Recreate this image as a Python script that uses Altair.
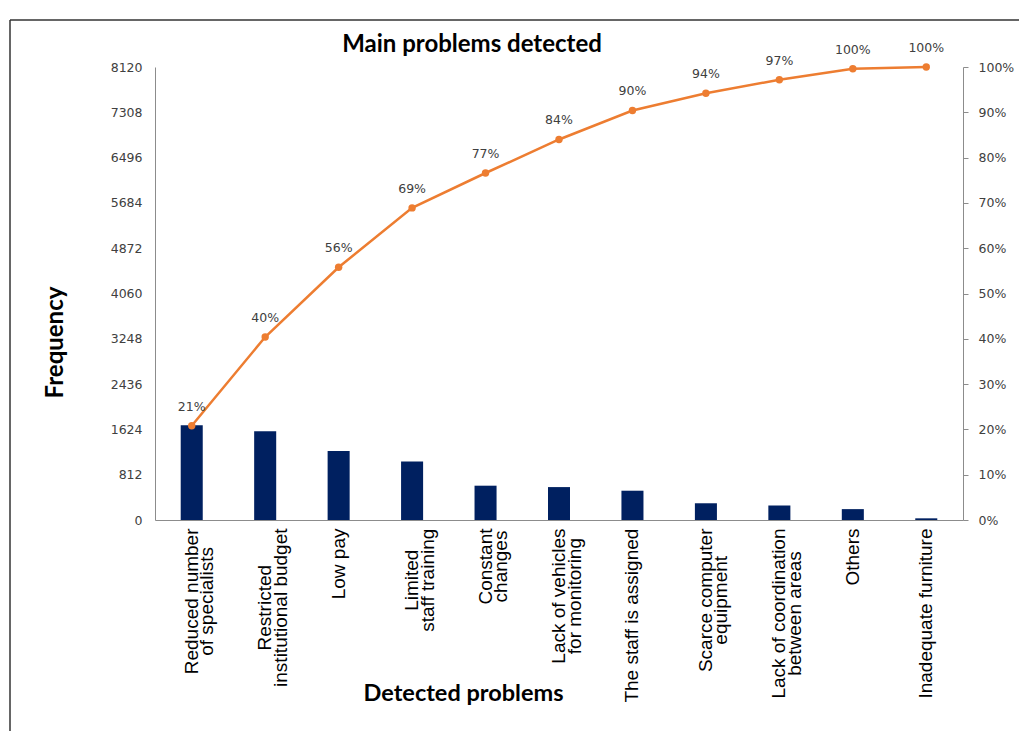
import altair as alt
import pandas as pd

# ---- data ----
categories = [
    "Reduced number|of specialists",
    "Restricted|institutional budget",
    "Low pay",
    "Limited|staff training",
    "Constant|changes",
    "Lack of vehicles|for monitoring",
    "The staff is assigned",
    "Scarce computer|equipment",
    "Lack of coordination|between areas",
    "Others",
    "Inadequate furniture",
]
frequencies = [1700, 1590, 1235, 1050, 615, 590, 525, 300, 260, 195, 30]
cumulative_share = [0.208, 0.404, 0.558, 0.689, 0.766, 0.840, 0.904, 0.942, 0.972, 0.996, 1.0]
freq_ticks = [0, 812, 1624, 2436, 3248, 4060, 4872, 5684, 6496, 7308, 8120]
pct_ticks = [0, 0.1, 0.2, 0.3, 0.4, 0.5, 0.6, 0.7, 0.8, 0.9, 1.0]

df = pd.DataFrame({"problem": categories, "freq": frequencies, "cum": cumulative_share})

# ---- label layout helper (Arial / Liberation Sans advance widths, per 1000 em) ----
W = {" ": 278, "a": 556, "b": 556, "c": 500, "d": 556, "e": 556, "f": 278, "g": 556,
     "h": 556, "i": 222, "j": 222, "k": 500, "l": 222, "m": 833, "n": 556, "o": 556,
     "p": 556, "q": 556, "r": 333, "s": 500, "t": 278, "u": 556, "v": 500, "w": 722,
     "x": 500, "y": 500, "z": 500, "C": 722, "I": 278, "L": 556, "O": 778, "R": 722,
     "S": 667, "T": 611}
LABEL_SIZE = 19
BASE_PAD = 8


def line_width(s):
    return sum(W.get(ch, 556) for ch in s) * LABEL_SIZE / 1000.0


conds = []
for c in categories:
    longest = max(line_width(p) for p in c.split("|"))
    conds.append({"test": f"datum.value === '{c}'", "value": BASE_PAD + longest / 2})

BAR = "#002060"
ORANGE = "#ED7D31"
GREY = "#8C8C8C"
TXT = "#404040"

x = alt.X(
    "problem:N",
    sort=categories,
    scale=alt.Scale(paddingInner=0.7, paddingOuter=0.35),
    axis=alt.Axis(
        title="Detected problems",
        labelExpr="split(datum.value, '|')",
        labelAngle=-90,
        labelAlign="center",
        labelBaseline="middle",
        labelFont="Liberation Sans",
        labelFontSize=LABEL_SIZE,
        labelLineHeight=15.5,
        labelColor="#000000",
        labelPadding={"condition": conds, "value": BASE_PAD},
        labelLimit=400,
        tickSize=0,
        domainColor=GREY,
        domainWidth=1,
        titleFont="Lato",
        titleFontSize=23.5,
        titleFontWeight="bold",
        titleColor="#000000",
        titleX=308,
        titleY=173,
        titleAlign="center",
        titleBaseline="middle",
        titleAnchor="start",
    ),
)

bars = alt.Chart(df).mark_bar(color=BAR).encode(
    x=x,
    y=alt.Y(
        "freq:Q",
        scale=alt.Scale(domain=[0, 8120], nice=False),
        axis=alt.Axis(
            values=freq_ticks,
            format="d",
            title="Frequency",
            grid=False,
            tickSize=0,
            domainColor=GREY,
            labelFont="DejaVu Sans",
            labelFontSize=12.5,
            labelColor=TXT,
            labelPadding=13,
            titleFont="Lato",
            titleFontSize=24,
            titleFontWeight="bold",
            titleColor="#000000",
            titleX=-100,
            titleY=275,
            titleAngle=270,
            titleAlign="center",
            titleBaseline="middle",
        ),
    ),
)

pct_y = alt.Y(
    "cum:Q",
    scale=alt.Scale(domain=[0, 1], nice=False),
    axis=alt.Axis(
        orient="right",
        values=pct_ticks,
        format=".0%",
        title=None,
        grid=False,
        tickSize=5,
        tickColor=GREY,
        domainColor=GREY,
        labelFont="DejaVu Sans",
        labelFontSize=12.5,
        labelColor=TXT,
        labelPadding=10,
    ),
)

line = alt.Chart(df).mark_line(color=ORANGE, strokeWidth=2.5).encode(
    x=alt.X("problem:N", sort=categories), y=pct_y
)
pts = alt.Chart(df).mark_circle(color=ORANGE, size=55, opacity=1).encode(
    x=alt.X("problem:N", sort=categories), y=alt.Y("cum:Q")
)
labels = alt.Chart(df).mark_text(
    font="DejaVu Sans", fontSize=12.5, color=TXT, baseline="middle", dy=-19
).encode(
    x=alt.X("problem:N", sort=categories),
    y=alt.Y("cum:Q"),
    text=alt.Text("cum:Q", format=".0%"),
)

pareto = alt.layer(line, pts, labels)

frame_df = pd.DataFrame({"k": [0]})
frame_left = alt.Chart(frame_df).mark_rule(color="#333333", strokeWidth=1.5).encode(
    x=alt.value(-145), y=alt.value(-47), y2=alt.value(664)
)
frame_top = alt.Chart(frame_df).mark_rule(color="#333333", strokeWidth=1.5).encode(
    x=alt.value(-145), x2=alt.value(864), y=alt.value(-47)
)

chart = (
    alt.layer(bars, pareto, frame_left, frame_top)
    .resolve_scale(y="independent")
    .properties(
        width=808,
        height=453,
        autosize="none",
        padding={"left": 155, "top": 67, "right": 56, "bottom": 211},
        background="white",
        title=alt.TitleParams(
            "Main problems detected",
            font="Lato",
            fontSize=24,
            fontWeight="bold",
            color="#000000",
            anchor="middle",
            dx=-87,
            offset=-38,
        ),
    )
    .configure_view(stroke=None)
)

chart.save("out.html", embed_options={"renderer": "svg", "actions": False})
